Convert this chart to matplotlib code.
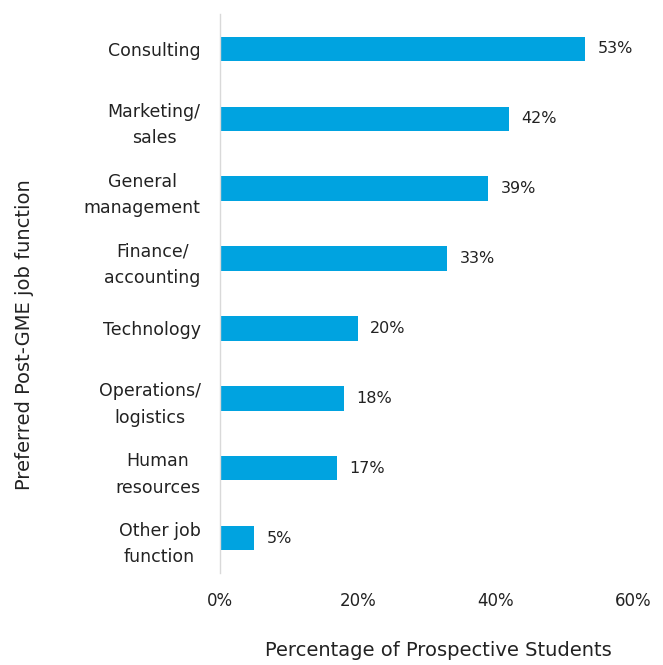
import matplotlib
matplotlib.use("Agg")
import matplotlib.pyplot as plt
from matplotlib.ticker import FuncFormatter

plt.rcParams['font.family'] = ['DejaVu Sans']

categories = ["Consulting", "Marketing/\nsales", "General\nmanagement", "Finance/\naccounting",
              "Technology", "Operations/\nlogistics", "Human\nresources", "Other job\nfunction"]
values = [53, 42, 39, 33, 20, 18, 17, 5]
xticks = [0, 20, 40, 60]

bar_color = "#00A3E0"
text_color = "#222222"

fig = plt.figure(figsize=(6.63, 6.65), dpi=100)
ax = fig.add_axes([220 / 663, 1 - 573 / 665, 413 / 663, 559 / 665])

pos = list(range(len(categories)))
ax.barh(pos, values, height=0.35, color=bar_color)
for p, v in zip(pos, values):
    ax.annotate(f"{v}%", (v, p), xytext=(9, 0), textcoords="offset points",
                va="center", ha="left", fontsize=11.5, color=text_color)

ax.set_ylim(len(categories) - 0.5, -0.5)
ax.set_xlim(0, 60)
ax.set_yticks(pos)
ax.set_yticklabels(categories, multialignment="center", linespacing=1.6, fontsize=12.5)
ax.set_xticks(xticks)
ax.xaxis.set_major_formatter(FuncFormatter(lambda x, _: f"{x:.0f}%"))
ax.tick_params(axis="both", length=0, colors=text_color)
ax.tick_params(axis="x", labelsize=12, pad=14)
ax.tick_params(axis="y", pad=14)

for s in ["top", "right", "bottom"]:
    ax.spines[s].set_visible(False)
ax.spines["left"].set_color("#d9d9d9")
ax.spines["left"].set_linewidth(1)

ax.set_xlabel("Percentage of Prospective Students", fontsize=14, color=text_color, va="center")
ax.xaxis.set_label_coords(438 / 663, 1 - 651 / 665, transform=fig.transFigure)
ax.set_ylabel("Preferred Post-GME job function", fontsize=14, color=text_color, va="center")
ax.yaxis.set_label_coords(25 / 663, 1 - 335 / 665, transform=fig.transFigure)

fig.savefig("out.png", dpi=100)
